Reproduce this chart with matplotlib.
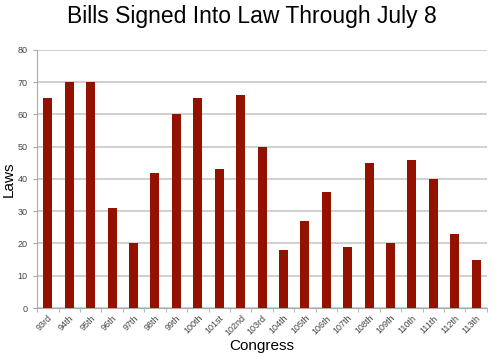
import matplotlib
matplotlib.use("Agg")
from matplotlib import pyplot as plt
import numpy as np

plt.rcParams["font.family"] = ["Liberation Sans", "DejaVu Sans"]

congress = ["93rd", "94th", "95th", "96th", "97th", "98th", "99th", "100th",
            "101st", "102nd", "103rd", "104th", "105th", "106th", "107th",
            "108th", "109th", "110th", "111th", "112th", "113th"]
laws = [65, 70, 70, 31, 20, 42, 60, 65, 43, 66, 50, 18, 27, 36, 19, 45, 20,
        46, 40, 23, 15]

fig = plt.figure(figsize=(5.03, 3.59), dpi=100)
ax = fig.add_axes([0.074, 0.142, 0.894, 0.719])

x = np.arange(len(congress))
ax.bar(x, laws, width=0.42, color="#941100", zorder=3)

ax.set_xlim(-0.5, len(congress) - 0.5)
ax.set_ylim(0, 80)
ax.set_yticks(range(0, 81, 10))
ax.yaxis.grid(True, color="#c8c8c8", linewidth=1.2, zorder=0)

# ticks between categories, labels centred
ax.set_xticks(x)
ax.set_xticklabels(congress, rotation=45, ha="right", rotation_mode="anchor",
                   fontsize=6.5, color="#444444")
ax.set_xticks(np.arange(-0.5, len(congress), 1), minor=True)
ax.tick_params(axis="x", which="major", length=0, pad=4)
ax.tick_params(axis="x", which="minor", length=3, color="#aaaaaa")
ax.tick_params(axis="y", length=3, color="#aaaaaa", labelsize=6.5,
               labelcolor="#444444", pad=4)

for s in ["top", "right"]:
    ax.spines[s].set_visible(False)
for s in ["left", "bottom"]:
    ax.spines[s].set_color("#aaaaaa")

ax.set_xlabel("Congress", fontsize=11, labelpad=1)
fig.text(0.018, 0.5, "Laws", rotation=90, fontsize=11, ha="center", va="center")
fig.suptitle("Bills Signed Into Law Through July 8", fontsize=16.5, y=0.985)

fig.savefig("out.png", dpi=100)
